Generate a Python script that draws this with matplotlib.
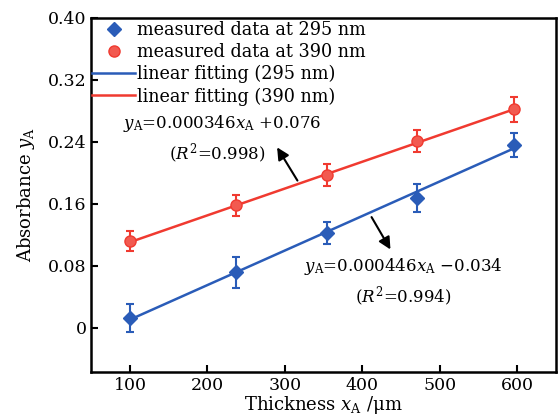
import numpy as np
import matplotlib
matplotlib.use('Agg')
import matplotlib.pyplot as plt
from matplotlib.lines import Line2D

plt.rcParams['font.family'] = ['DejaVu Serif']
plt.rcParams['mathtext.fontset'] = 'dejavuserif'

# measured data
thickness = [100, 237, 354, 471, 596]
abs_295 = [0.013, 0.072, 0.122, 0.168, 0.236]
err_295 = [0.018, 0.020, 0.014, 0.018, 0.016]
abs_390 = [0.112, 0.158, 0.197, 0.241, 0.282]
err_390 = [0.013, 0.014, 0.014, 0.014, 0.016]

# linear fit coefficients (slope, intercept)
fit_295 = (0.000446, -0.034)
fit_390 = (0.000346, 0.076)

blue = '#2a5cb8'
red = '#f03a30'

fig = plt.figure(figsize=(5.6, 4.17), dpi=100)
ax = fig.add_axes([0.163, 0.108, 0.83, 0.849])

x = np.array(thickness)
xf = np.array([x[0], x[-1]])
ax.plot(xf, fit_295[0] * xf + fit_295[1], color=blue, lw=1.8, zorder=2)
ax.plot(xf, fit_390[0] * xf + fit_390[1], color=red, lw=1.8, zorder=2)
ax.errorbar(x, abs_295, yerr=err_295, fmt='D', color=blue, ms=7, capsize=3,
            elinewidth=1.5, capthick=1.5, zorder=3)
ax.errorbar(x, abs_390, yerr=err_390, fmt='o', color=red, mfc='#f25a50', ms=8, capsize=3,
            elinewidth=1.5, capthick=1.5, zorder=3)

handles = [
    Line2D([], [], ls='none', marker='D', color=blue, ms=7),
    Line2D([], [], ls='none', marker='o', color=red, mfc='#f25a50', ms=8),
    Line2D([], [], color=blue, lw=1.8),
    Line2D([], [], color=red, lw=1.8),
]
labels = ['measured data at 295 nm', 'measured data at 390 nm',
          'linear fitting (295 nm)', 'linear fitting (390 nm)']
ax.legend(handles, labels, loc='upper left', frameon=False, fontsize=12.7,
          handlelength=2.4, handletextpad=0.1, labelspacing=0.22,
          borderaxespad=0.0, borderpad=0.2, bbox_to_anchor=(-0.005, 1.0))

ax.text(91, 0.264, r'$y_{\mathrm{A}}$=0.000346$x_{\mathrm{A}}$ +0.076', fontsize=12, va='center')
ax.text(150, 0.225, r'($R^2$=0.998)', fontsize=12, va='center')
ax.text(325, 0.079, r'$y_{\mathrm{A}}$=0.000446$x_{\mathrm{A}}$ $-$0.034', fontsize=12, va='center')
ax.text(390, 0.040, r'($R^2$=0.994)', fontsize=12, va='center')

ax.annotate('', xy=(288, 0.236), xytext=(318, 0.187),
            arrowprops=dict(arrowstyle='-|>', color='black', lw=1.5, mutation_scale=18))
ax.annotate('', xy=(438, 0.098), xytext=(410, 0.146),
            arrowprops=dict(arrowstyle='-|>', color='black', lw=1.5, mutation_scale=18))

ax.set_xlim(50, 650)
ax.set_ylim(-0.057, 0.40)
ax.set_xticks([100, 200, 300, 400, 500, 600])
ax.set_yticks([0, 0.08, 0.16, 0.24, 0.32, 0.40])
ax.set_yticklabels(['0', '0.08', '0.16', '0.24', '0.32', '0.40'])
ax.tick_params(direction='in', length=5, width=1.5, labelsize=12.5)
for s in ax.spines.values():
    s.set_linewidth(1.8)

ax.set_xlabel(r'Thickness $x_{\mathrm{A}}$ /μm', fontsize=13, labelpad=0)
ax.set_ylabel(r'Absorbance $y_{\mathrm{A}}$', fontsize=13, labelpad=8)

plt.savefig('out.png', dpi=100)
